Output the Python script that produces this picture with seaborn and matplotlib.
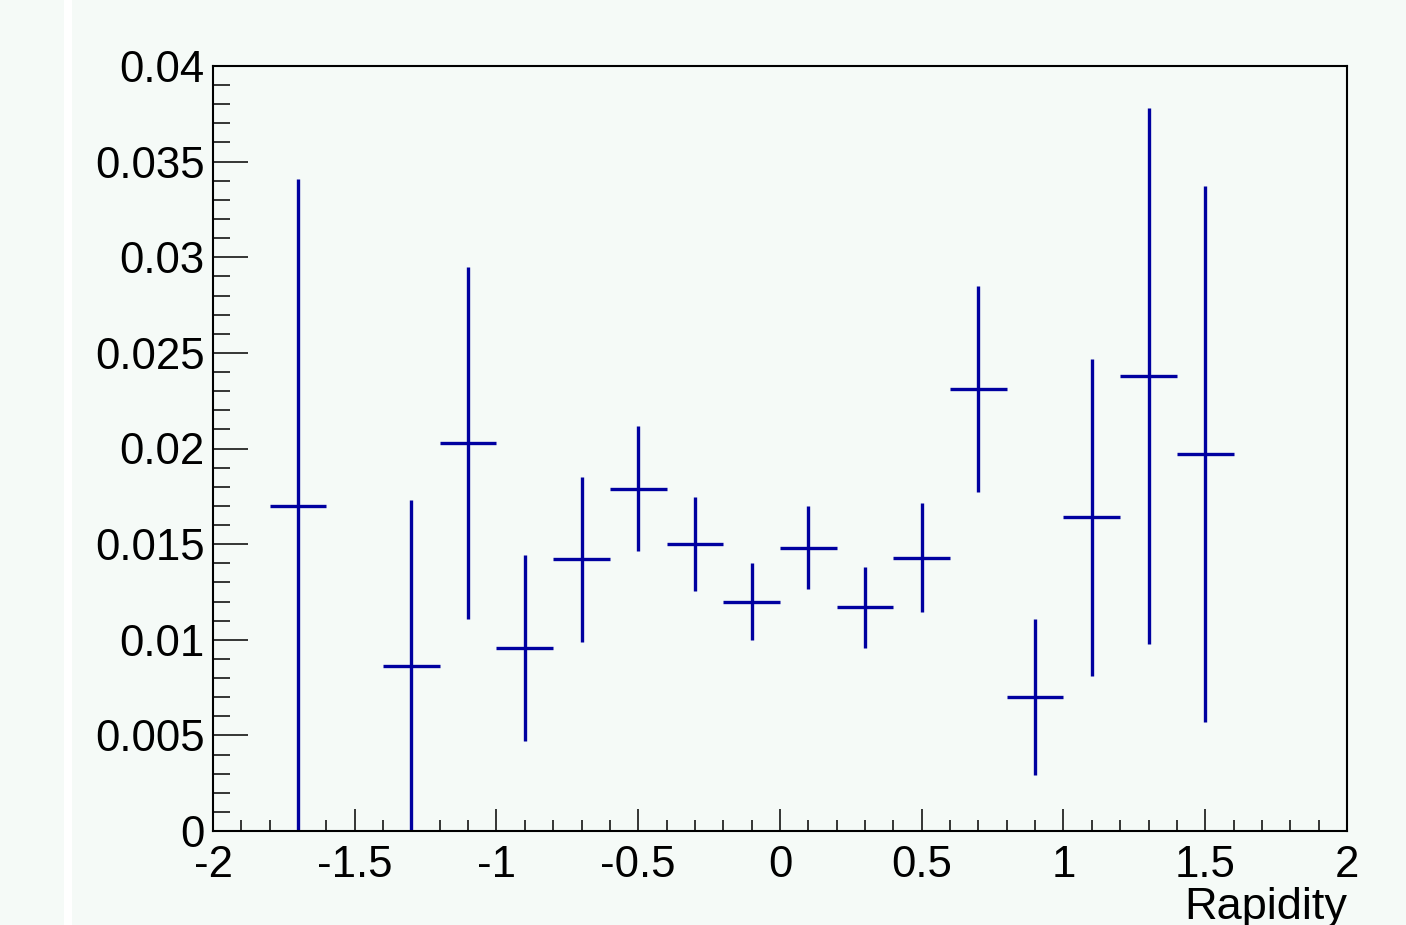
import numpy as np
import pandas as pd
import seaborn as sns
import matplotlib.pyplot as plt
from matplotlib.patches import Rectangle

# bin centres (width 0.2), values and errors
rapidity = [-1.7, -1.3, -1.1, -0.9, -0.7, -0.5, -0.3, -0.1,
            0.1, 0.3, 0.5, 0.7, 0.9, 1.1, 1.3, 1.5]
value = [0.0170, 0.00863, 0.0203, 0.00957, 0.0142, 0.0179, 0.0150, 0.0120,
         0.0148, 0.0117, 0.0143, 0.0231, 0.00701, 0.0164, 0.0238, 0.0197]
error = [0.0171, 0.0087, 0.0092, 0.00485, 0.0043, 0.00327, 0.00245, 0.0020,
         0.00217, 0.00212, 0.00285, 0.00538, 0.0041, 0.0083, 0.0140, 0.0140]
bin_half = 0.1

xticks = [-2, -1.5, -1, -0.5, 0, 0.5, 1, 1.5, 2]
xtick_labels = ['-2', '-1.5', '-1', '-0.5', '0', '0.5', '1', '1.5', '2']
yticks = [0, 0.005, 0.01, 0.015, 0.02, 0.025, 0.03, 0.035, 0.04]
ytick_labels = ['0', '0.005', '0.01', '0.015', '0.02', '0.025', '0.03', '0.035', '0.04']

df = pd.DataFrame({'rapidity': rapidity, 'value': value, 'error': error})

sns.set_style('ticks')
plt.rcParams['font.family'] = ['Liberation Sans', 'DejaVu Sans']
plt.rcParams['text.color'] = 'black'
plt.rcParams['xtick.color'] = 'black'
plt.rcParams['ytick.color'] = 'black'
plt.rcParams['axes.labelcolor'] = 'black'
bg = '#f5faf7'

fig = plt.figure(figsize=(14.06, 9.25), dpi=100, facecolor=bg)
fig.patches.append(Rectangle((64 / 1406, 0), 8 / 1406, 1, transform=fig.transFigure,
                             facecolor='white', edgecolor='none', zorder=0))
ax = fig.add_axes([213 / 1406, 94 / 925, 1134 / 1406, 765 / 925])
ax.set_facecolor(bg)

ax.errorbar(df['rapidity'], df['value'], xerr=bin_half, yerr=df['error'],
            fmt='none', ecolor='#0000a0', elinewidth=2.4, capsize=0)

ax.set_xlim(-2, 2)
ax.set_ylim(0, 0.04)
ax.set_xticks(xticks)
ax.set_xticklabels(xtick_labels)
ax.set_yticks(yticks)
ax.set_yticklabels(ytick_labels)
ax.set_xticks(np.arange(-2, 2.001, 0.1), minor=True)
ax.set_yticks(np.arange(0, 0.04001, 0.001), minor=True)

for s in ax.spines.values():
    s.set_linewidth(1.5)
    s.set_color('black')
ax.tick_params(axis='both', which='both', direction='in', width=1.1, color='black',
               labelcolor='black', labelsize=31.5, top=False, right=False)
ax.tick_params(axis='x', which='major', length=16, pad=10)
ax.tick_params(axis='x', which='minor', length=8)
ax.tick_params(axis='y', which='major', length=25, pad=6)
ax.tick_params(axis='y', which='minor', length=12.5)

ax.set_xlabel('Rapidity', fontsize=32.5, color='black')
ax.xaxis.set_label_coords(1.0, -0.073)
ax.xaxis.label.set_horizontalalignment('right')
ax.set_ylabel('')

fig.savefig('out.png', dpi=100, facecolor=bg)
